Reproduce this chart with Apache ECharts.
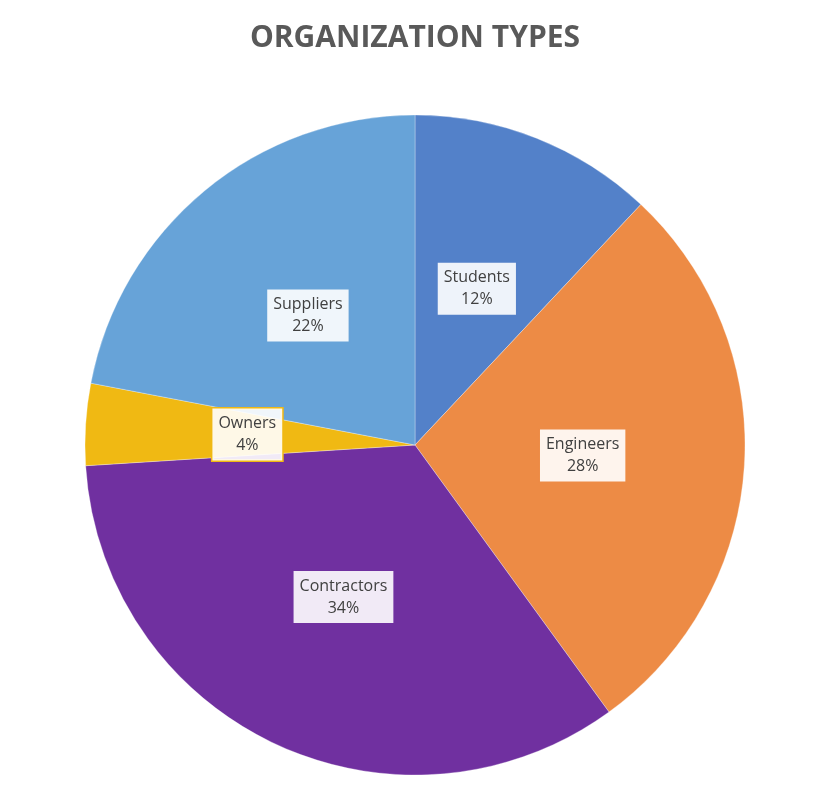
<!DOCTYPE html>
<html><head><meta charset="utf-8">
<script src="https://cdn.jsdelivr.net/npm/echarts@6/dist/echarts.min.js"></script>
<style>html,body{margin:0;background:#fff}#c{width:830px;height:785px}</style>
</head><body><div id="c"></div>
<script>
const categories = ["Students","Engineers","Contractors","Owners","Suppliers"];
const values = [12,28,34,4,22];
const colors = ["#5381C9","#ED8B45","#7030A0","#F0B913","#67A3D8"];
const chart = echarts.init(document.getElementById('c'));
chart.setOption({
  title:{text:"ORGANIZATION TYPES",left:"center",top:18,
    textStyle:{fontFamily:"Open Sans",fontWeight:"bold",fontSize:30,color:"#595959"}},
  series:[{
    type:"pie",startAngle:90,clockwise:true,
    center:[415,445],radius:[0,330],
    data:categories.map((n,i)=>({name:n,value:values[i],
      itemStyle:{color:colors[i],borderColor:"rgba(255,255,255,0.3)",borderWidth:1},
      label:{borderColor:colors[i]}})),
    label:{show:true,position:"inside",formatter:"{b}\n{d}%",
      fontFamily:"Open Sans",fontSize:16,color:"#404040",lineHeight:22,
      backgroundColor:"rgba(255,255,255,0.9)",borderWidth:1.5,padding:[4,6],
      formatter:p=>p.name+"\n"+p.value+"%"},
    labelLine:{show:false},
    emphasis:{disabled:true}
  }]
});
</script></body></html>
